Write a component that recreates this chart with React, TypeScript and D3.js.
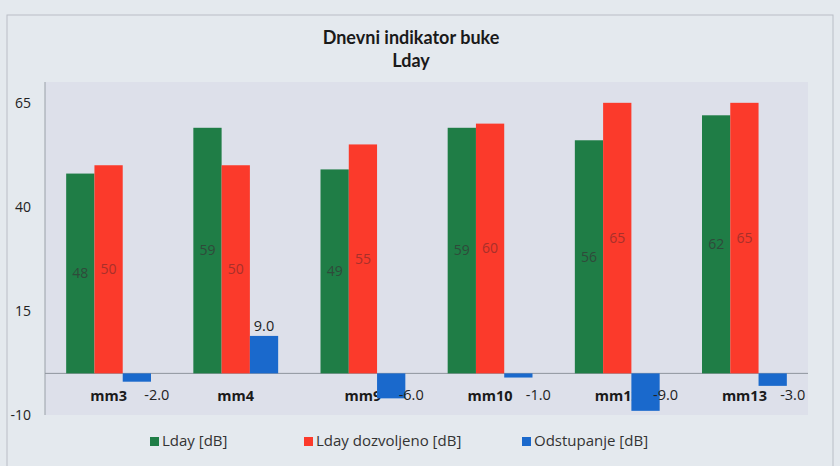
import React from "react";
import * as d3 from "d3";

const categories = ["mm3", "mm4", "mm9", "mm10", "mm12", "mm13"];
const seriesNames = ["Lday [dB]", "Lday dozvoljeno [dB]", "Odstupanje [dB]"];
const ldayValues = [48, 59, 49, 59, 56, 62];
const allowedValues = [50, 50, 55, 60, 65, 65];
const deviationValues = [-2, 9, -6, -1, -9, -3];
const yTicks = [-10, 15, 40, 65];

const W = 840;
const H = 466;
const colors = ["#1f7d46", "#fb3a2b", "#1a69cc"];
const labelColors = ["#2f4a3a", "#a8302a", "#333"];

export default function App() {
  const plot = { left: 45, right: 808, top: 82, bottom: 415 };
  const x0 = d3
    .scaleBand<string>()
    .domain(categories)
    .range([plot.left, plot.right])
    .paddingInner(0.333)
    .paddingOuter(0.1665);
  const x1 = d3
    .scaleBand<number>()
    .domain([0, 1, 2])
    .range([0, x0.bandwidth()]);
  const y = d3.scaleLinear().domain([-10, 70]).range([plot.bottom, plot.top]);
  const series = [ldayValues, allowedValues, deviationValues];
  const legendX = [150, 304, 522];

  return (
    <svg width={W} height={H} style={{ display: "block", position: "absolute", left: 0, top: 0 }}>
      <rect x={0} y={0} width={W} height={H} fill="#e4e9ee" />
      <rect x={7} y={15} width={826} height={460} fill="none" stroke="#b9bec6" strokeWidth={1} />
      <rect
        x={plot.left}
        y={plot.top}
        width={plot.right - plot.left}
        height={plot.bottom - plot.top}
        fill="#dde0ea"
      />
      <line x1={plot.left} x2={plot.left} y1={plot.top} y2={plot.bottom} stroke="#9aa0a8" strokeWidth={1} />
      <text
        x={411}
        y={44}
        textAnchor="middle"
        fontFamily="Lato, 'Open Sans', sans-serif"
        fontWeight="bold"
        fontSize={18}
        fill="#1a1a1a"
      >
        Dnevni indikator buke
      </text>
      <text
        x={411}
        y={67}
        textAnchor="middle"
        fontFamily="Lato, 'Open Sans', sans-serif"
        fontWeight="bold"
        fontSize={18}
        fill="#1a1a1a"
      >
        Lday
      </text>
      {yTicks.map((t) => (
        <text
          key={t}
          x={31}
          y={y(t)}
          dy="0.35em"
          textAnchor="end"
          fontFamily="'Open Sans', sans-serif"
          fontSize={14}
          fill="#222"
        >
          {t}
        </text>
      ))}
      {categories.map((c) => (
        <text
          key={c}
          x={(x0(c) as number) + x0.bandwidth() / 2}
          y={396}
          dy="0.35em"
          textAnchor="middle"
          fontFamily="'Open Sans', sans-serif"
          fontWeight="bold"
          fontSize={14.5}
          fill="#1a1a1a"
        >
          {c}
        </text>
      ))}
      <line x1={plot.left} x2={plot.right} y1={y(0)} y2={y(0)} stroke="#8f959e" strokeWidth={1} />
      {series.map((vals, si) =>
        vals.map((v, i) => {
          const bx = (x0(categories[i]) as number) + (x1(si) as number);
          const top = Math.min(y(v), y(0));
          const h = Math.abs(y(v) - y(0));
          return (
            <rect key={`${si}-${i}`} x={bx} y={top} width={x1.bandwidth()} height={h} fill={colors[si]} />
          );
        })
      )}
      {series.slice(0, 2).map((vals, si) =>
        vals.map((v, i) => {
          const bx = (x0(categories[i]) as number) + (x1(si) as number) + x1.bandwidth() / 2;
          return (
            <text
              key={`l${si}-${i}`}
              x={bx}
              y={(y(v) + y(0)) / 2}
              dy="0.35em"
              textAnchor="middle"
              fontFamily="'Open Sans', sans-serif"
              fontSize={14}
              fill={labelColors[si]}
            >
              {v}
            </text>
          );
        })
      )}
      {deviationValues.map((v, i) => {
        const bc = (x0(categories[i]) as number) + (x1(2) as number) + x1.bandwidth() / 2;
        const pos = v >= 0;
        return (
          <text
            key={`d${i}`}
            x={pos ? bc : bc + 20}
            y={pos ? y(v) - 10 : y(0) + 22}
            dy="0.35em"
            textAnchor="middle"
            fontFamily="'Open Sans', sans-serif"
            fontSize={14.5}
            fill="#222"
          >
            {v.toFixed(1)}
          </text>
        );
      })}
      {seriesNames.map((n, si) => (
        <g key={n}>
          <rect x={legendX[si]} y={437} width={9} height={9} fill={colors[si]} />
          <text
            x={legendX[si] + 12}
            y={441}
            dy="0.35em"
            fontFamily="'Open Sans', sans-serif"
            fontSize={15}
            fill="#333"
          >
            {n}
          </text>
        </g>
      ))}
    </svg>
  );
}
